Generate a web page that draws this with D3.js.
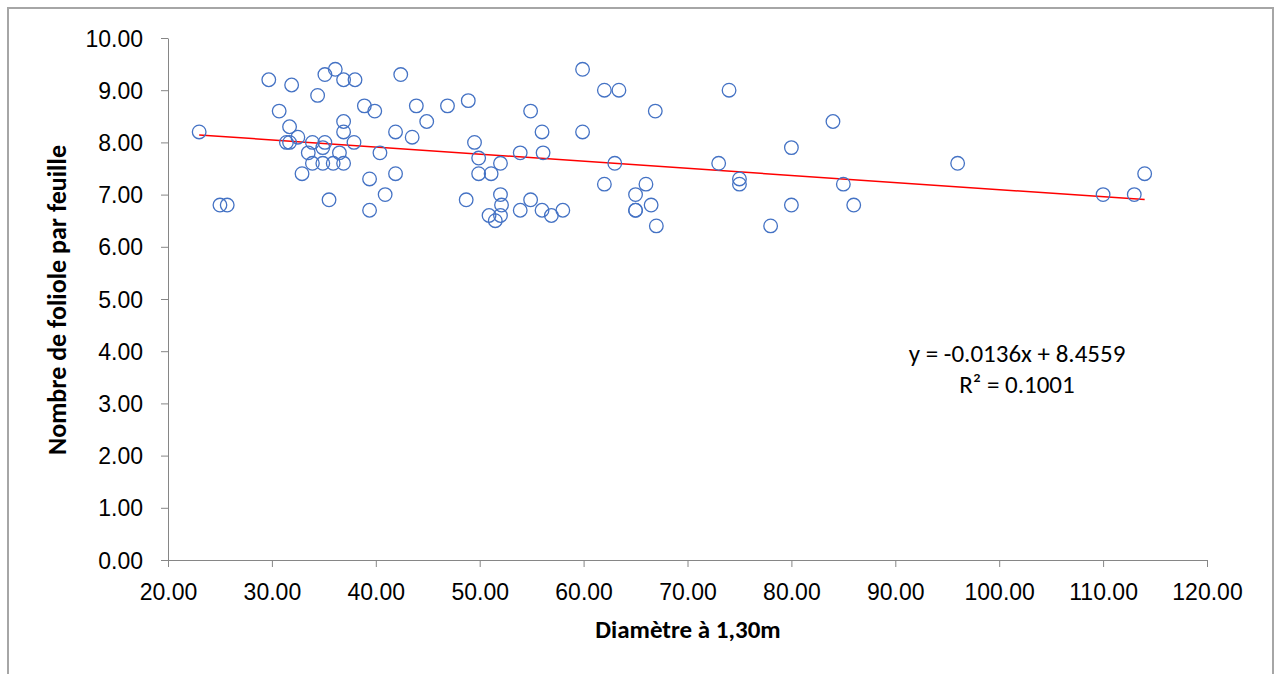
<!DOCTYPE html>
<html>
<head>
<meta charset="utf-8">
<script src="https://cdn.jsdelivr.net/npm/d3@7"></script>
<style>
body{margin:0;background:#fff;}
svg{font-family:Carlito,Calibri,Lato,"Open Sans",sans-serif;}
.axis path,.axis line{stroke:#868686;}
.axis text{fill:#000;font-size:23px;}
</style>
</head>
<body>
<script>
// diametre (x) et nombre de folioles (y)
var diametre = [23,25,25.7,29.7,30.7,31.9,31.7,32.5,31.4,31.7,33.9,35.1,34.9,33.5,36.5,37.9,36.9,36.9,
  33.9,34.9,35.9,36.9,32.9,35.5,34.4,35.1,36.1,36.9,38,42.4,38.9,39.9,39.4,39.4,40.9,41.9,40.4,41.9,
  43.5,43.9,44.9,46.9,48.9,49.5,49.9,52,49.9,51.1,48.7,52,52.1,50.9,52,51.5,53.9,56.1,54.9,56,53.9,
  54.9,56,56.9,58,59.9,59.9,62,63.4,63,62,65,65,65,66,66.5,67,66.9,74,73,75,75,78,80,80,84,85,86,96,110,113,114];
var folioles = [8.2,6.8,6.8,9.2,8.6,9.1,8.3,8.1,8.0,8.0,8.0,8.0,7.9,7.8,7.8,8.0,8.4,8.2,
  7.6,7.6,7.6,7.6,7.4,6.9,8.9,9.3,9.4,9.2,9.2,9.3,8.7,8.6,7.3,6.7,7.0,7.4,7.8,8.2,
  8.1,8.7,8.4,8.7,8.8,8.0,7.7,7.6,7.4,7.4,6.9,7.0,6.8,6.6,6.6,6.5,7.8,7.8,8.6,8.2,6.7,
  6.9,6.7,6.6,6.7,9.4,8.2,9.0,9.0,7.6,7.2,7.0,6.7,6.7,7.2,6.8,6.4,8.6,9.0,7.6,7.3,7.2,6.4,7.9,6.8,8.4,7.2,6.8,7.6,7.0,7.0,7.4];
var xTicks = [20,30,40,50,60,70,80,90,100,110,120];
var yTicks = [0,1,2,3,4,5,6,7,8,9,10];
var pente = -0.0136, origine = 8.4559;
var equation = ["y = -0.0136x + 8.4559","R² = 0.1001"];

var points = diametre.map(function(d,i){return {x:d,y:folioles[i]};});

var svg = d3.select("body").append("svg").attr("width",1276).attr("height",674);

// cadre du graphique
svg.append("path")
    .attr("d","M8,674 V8 H1273 V674")
    .attr("fill","none")
    .attr("stroke","#a6a6a6")
    .attr("stroke-width","2");

var x = d3.scaleLinear().domain([20,120]).range([168,1207]);
var y = d3.scaleLinear().domain([0,10]).range([560,38]);

svg.append("g").attr("class","axis")
    .attr("transform","translate(0,560)")
    .call(d3.axisBottom(x).tickValues(xTicks).tickSize(7).tickSizeOuter(0).tickFormat(d3.format(".2f")))
    .call(function(g){g.selectAll("text").attr("y",32).attr("dy","0.35em");});

svg.append("g").attr("class","axis")
    .attr("transform","translate(168,0)")
    .call(d3.axisLeft(y).tickValues(yTicks).tickSize(7).tickSizeOuter(0).tickFormat(d3.format(".2f")))
    .call(function(g){g.selectAll("text").attr("x",-25).attr("dy","0.35em");});

// droite de tendance
var xMin = d3.min(diametre), xMax = d3.max(diametre);
svg.append("line")
    .attr("x1",x(xMin)).attr("y1",y(pente*xMin+origine))
    .attr("x2",x(xMax)).attr("y2",y(pente*xMax+origine))
    .attr("stroke","#ff0000")
    .attr("stroke-width","1.5");

svg.selectAll("circle")
    .data(points)
    .enter().append("circle")
        .attr("cx",function(d){return x(d.x);})
        .attr("cy",function(d){return y(d.y);})
        .attr("r",6.8)
        .attr("fill","none")
        .attr("stroke","#4472c4")
        .attr("stroke-width","1.3");

svg.append("text").selectAll("tspan")
    .data(equation)
    .enter().append("tspan")
        .attr("x",1017)
        .attr("y",function(d,i){return 362+(i*31);})
        .attr("text-anchor","middle")
        .attr("font-size","25")
        .text(function(d){return d;});

svg.append("text")
    .attr("x",688).attr("y",638)
    .attr("text-anchor","middle")
    .attr("font-size","25")
    .attr("font-weight","bold")
    .text("Diamètre à 1,30m");

svg.append("text")
    .attr("transform","translate(66,300) rotate(-90)")
    .attr("text-anchor","middle")
    .attr("font-size","26")
    .attr("font-weight","bold")
    .text("Nombre de foliole par feuille");
</script>
</body>
</html>
